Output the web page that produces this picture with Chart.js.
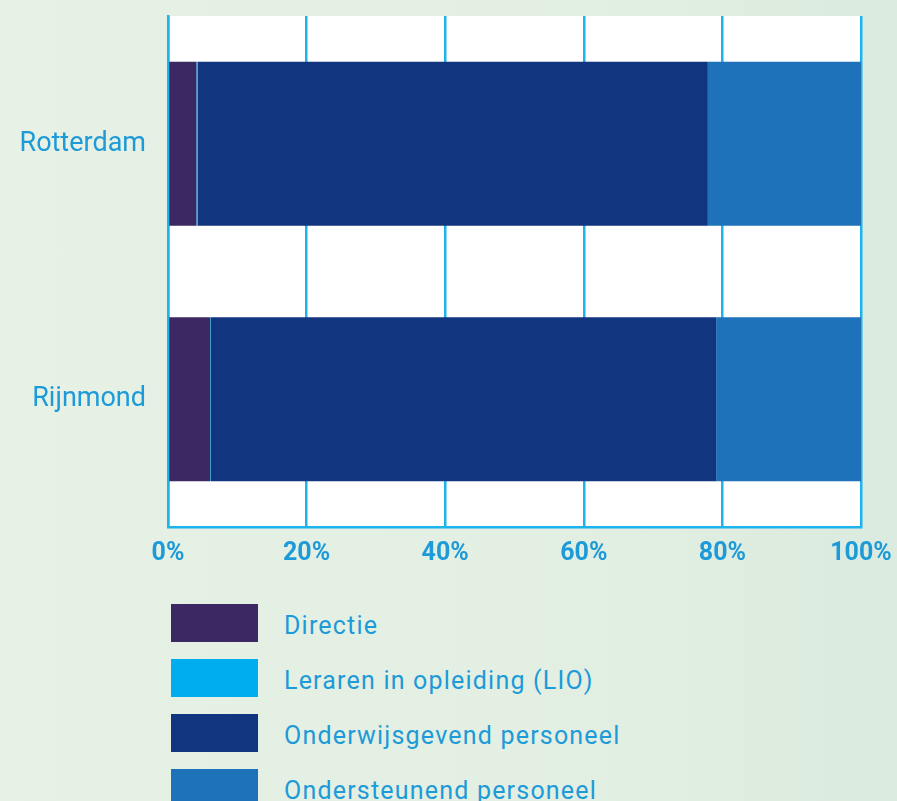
<!DOCTYPE html>
<html>
<head>
<meta charset="utf-8">
<script src="https://cdn.jsdelivr.net/npm/chart.js@4"></script>
<style>
    html, body { margin: 0; padding: 0; }
    body {
        width: 897px; height: 801px; overflow: hidden; position: relative;
        background: linear-gradient(90deg, #e7f1e5 0%, #e3efe3 60%, #dcebdf 100%);
        font-family: Roboto, 'DejaVu Sans', sans-serif;
    }
    #wrap { position: absolute; left: 0; top: 0; width: 897px; height: 580px; }
    #legend { position: absolute; left: 171px; top: 604px; margin: 0; padding: 0; list-style: none; }
    #legend li { display: flex; align-items: center; height: 38px; margin-bottom: 17px; }
    #legend .box { width: 87px; height: 38px; margin-right: 26px; }
    #legend .lbl { color: #1d9ad8; font-size: 25px; letter-spacing: 1.2px; padding-top: 5px; }
</style>
</head>
<body>
<div id="wrap"><canvas id="staffChart"></canvas></div>
<ul id="legend"></ul>
<script>
const regions = ['Rotterdam', 'Rijnmond'];
const seriesNames = ['Directie', 'Leraren in opleiding (LIO)', 'Onderwijsgevend personeel', 'Ondersteunend personeel'];
const directie = [4.1, 6.1];
const lio = [0.2, 0.1];
const onderwijsgevend = [73.6, 72.9];
const ondersteunend = [22.1, 20.9];
const seriesColors = ['#3c2862', '#00adef', '#11367f', '#1d72b9'];
const xTicks = [0, 20, 40, 60, 80, 100];

const LINE = '#1db4ec';
const TEXT = '#1d9ad8';

// white plot area behind the bars
const plotBg = {
    id: 'plotBg',
    beforeDraw(chart) {
        const { ctx, chartArea: a } = chart;
        ctx.save();
        ctx.fillStyle = '#ffffff';
        ctx.fillRect(a.left, a.top, a.right - a.left, a.bottom - a.top);
        ctx.restore();
    },
};

const values = [directie, lio, onderwijsgevend, ondersteunend];
const datasets = seriesNames.map((name, i) => ({
    label: name,
    data: values[i],
    backgroundColor: seriesColors[i],
    borderWidth: 0,
    barPercentage: 0.642,
    categoryPercentage: 1,
}));

new Chart(document.getElementById('staffChart'), {
    type: 'bar',
    data: { labels: regions, datasets },
    plugins: [plotBg],
    options: {
        indexAxis: 'y',
        responsive: true,
        maintainAspectRatio: false,
        animation: false,
        layout: { padding: { top: 16, right: 36, left: 0, bottom: 0 } },
        plugins: { legend: { display: false }, tooltip: { enabled: false } },
        scales: {
            x: {
                stacked: true,
                min: 0,
                max: 100,
                afterBuildTicks: (s) => { s.ticks = xTicks.map((v) => ({ value: v })); },
                afterFit: (s) => { s.height = 53; s.paddingLeft = 0; s.paddingRight = 0; },
                grid: { color: LINE, lineWidth: 2.5, drawTicks: false },
                border: { color: LINE, width: 2.5 },
                ticks: {
                    padding: 12,
                    color: TEXT,
                    font: { family: 'Roboto', size: 25, weight: 'bold' },
                    callback: (v) => v + '%',
                },
            },
            y: {
                stacked: true,
                afterFit: (s) => { s.width = 168; s.paddingTop = 0; s.paddingBottom = 0; },
                grid: { display: false, drawTicks: false },
                border: { color: LINE, width: 2.5 },
                ticks: {
                    padding: 22,
                    color: TEXT,
                    font: { family: 'Roboto', size: 27 },
                },
            },
        },
    },
});

const legendEl = document.getElementById('legend');
seriesNames.forEach((name, i) => {
    const li = document.createElement('li');
    li.innerHTML = `<span class="box" style="background:${seriesColors[i]}"></span><span class="lbl">${name}</span>`;
    legendEl.appendChild(li);
});
</script>
</body>
</html>
